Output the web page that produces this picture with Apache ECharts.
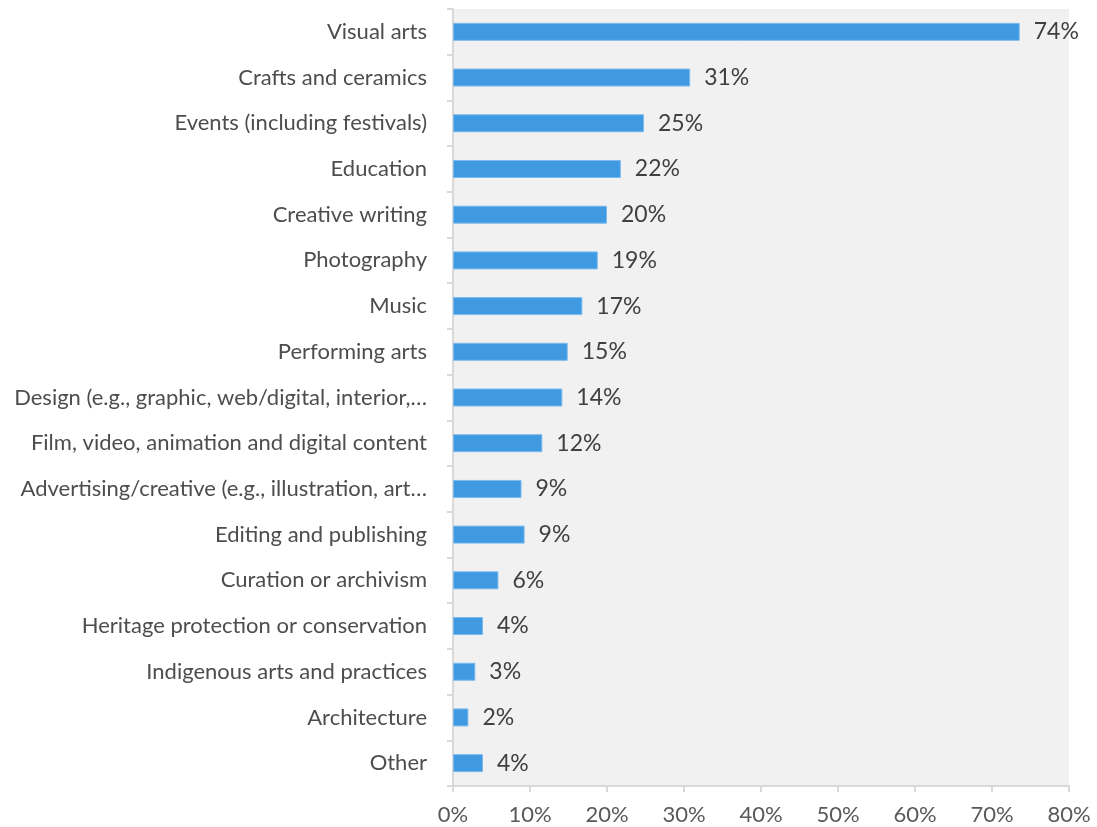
<!DOCTYPE html>
<html>
<head>
<meta charset="utf-8">
<script src="https://cdn.jsdelivr.net/npm/echarts@6/dist/echarts.min.js"></script>
<style>
  html, body { margin: 0; padding: 0; background: #ffffff; }
  #chart { width: 1097px; height: 827px; }
</style>
</head>
<body>
<div id="chart"></div>
<script>
// Creative fields, listed top to bottom
const fields = [
  'Visual arts',
  'Crafts and ceramics',
  'Events (including festivals)',
  'Education',
  'Creative writing',
  'Photography',
  'Music',
  'Performing arts',
  'Design (e.g., graphic, web/digital, interior,…',
  'Film, video, animation and digital content',
  'Advertising/creative (e.g., illustration, art…',
  'Editing and publishing',
  'Curation or archivism',
  'Heritage protection or conservation',
  'Indigenous arts and practices',
  'Architecture',
  'Other'
];

// Share of respondents (%)
const shares = [73.6, 30.8, 24.8, 21.8, 20.0, 18.8, 16.8, 14.9, 14.2, 11.6, 8.9, 9.3, 5.9, 3.9, 2.9, 2.0, 3.9];

// Value axis ticks
const axisMin = 0;
const axisMax = 80;
const axisStep = 10;

const FONT = 'Lato, "Open Sans", sans-serif';

const chart = echarts.init(document.getElementById('chart'), null, { renderer: 'canvas' });

chart.setOption({
  animation: false,
  backgroundColor: '#ffffff',
  grid: {
    left: 453,
    right: 28,
    top: 9,
    bottom: 41,
    outerBoundsMode: 'none',
    containLabel: false,
    show: true,
    backgroundColor: '#f1f1f1',
    borderWidth: 0
  },
  xAxis: {
    type: 'value',
    min: axisMin,
    max: axisMax,
    interval: axisStep,
    axisLine: { show: true, lineStyle: { color: '#d9d9d9', width: 2 } },
    axisTick: { show: true, length: 6, lineStyle: { color: '#d9d9d9', width: 2 } },
    splitLine: { show: false },
    axisLabel: {
      formatter: '{value}%',
      color: '#595959',
      fontFamily: FONT,
      fontSize: 22,
      margin: 18
    }
  },
  yAxis: {
    type: 'category',
    inverse: true,
    data: fields,
    axisLine: { show: true, lineStyle: { color: '#d9d9d9', width: 2 } },
    axisTick: { show: true, length: 6, lineStyle: { color: '#d9d9d9', width: 2 } },
    axisLabel: {
      color: '#4d4d4d',
      fontFamily: FONT,
      fontSize: 22,
      margin: 26
    }
  },
  series: [{
    type: 'bar',
    data: shares,
    barWidth: 18,
    itemStyle: {
      color: '#3f9ae2',
      borderColor: '#7cbaee',
      borderWidth: 1
    },
    label: {
      show: true,
      position: 'right',
      distance: 14,
      formatter: p => Math.round(p.value) + '%',
      color: '#404040',
      fontFamily: FONT,
      fontSize: 23
    }
  }]
});
</script>
</body>
</html>
